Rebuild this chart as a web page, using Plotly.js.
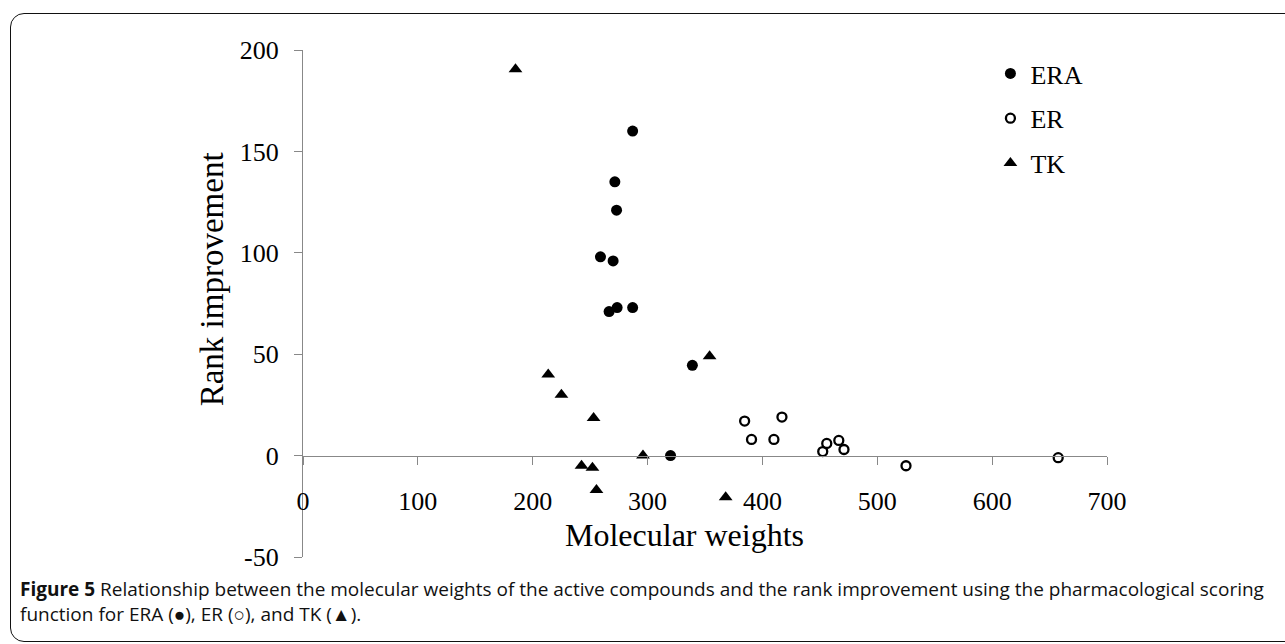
<!DOCTYPE html>
<html>
<head>
<meta charset="utf-8">
<script src="https://cdn.plot.ly/plotly-3.0.1.min.js"></script>
<style>
  html, body { margin: 0; padding: 0; background: #fff; }
  #wrap { position: relative; width: 1285px; height: 644px; overflow: hidden; }
  #frame { position: absolute; left: 10px; top: 13px; width: 1290px; height: 629px;
           border: 1.5px solid #111; border-radius: 14px; box-sizing: border-box; }
  #chart { position: absolute; left: 0; top: 0; width: 1285px; height: 644px; }
</style>
</head>
<body>
<div id="wrap">
  <div id="frame"></div>
  <div id="chart"></div>
</div>
<script>
// ERA (filled circles)
const eraX = [287, 271.5, 273, 259, 270, 266.5, 273.5, 287, 339, 320];
const eraY = [160, 135, 121, 98, 96, 71, 73, 73, 44.5, 0];
// ER (open circles)
const erX = [384.5, 390.5, 410, 417, 452.5, 456, 466.5, 471, 525, 657.5];
const erY = [17, 8, 8, 19, 2, 6, 7.5, 3, -5, -1];
// TK (triangles)
const tkX = [185, 213.5, 225, 253, 242.5, 252, 255.5, 296, 354, 368];
const tkY = [190.5, 40, 30, 18.5, -5, -6, -17, 0, 49, -20.5];

const xTicks = [0, 100, 200, 300, 400, 500, 600, 700];
const yTicks = [-50, 0, 50, 100, 150, 200];

const xTitle = "Molecular weights";
const yTitle = "Rank improvement";
const captionLine1 = "<b>Figure 5</b> Relationship between the molecular weights of the active compounds and the rank improvement using the pharmacological scoring";
const captionLine2 = "function for ERA (\u25CF), ER (\u25CB), and TK (\u25B2).";

const serif = "Liberation Serif, Times New Roman, serif";
const sans = "Open Sans, Noto Sans, sans-serif";

const traces = [
  { x: eraX, y: eraY, name: "ERA", type: "scatter", mode: "markers", legendgroup: "a",
    marker: { symbol: "circle", size: 11, color: "#000" } },
  { x: erX, y: erY, name: "ER", type: "scatter", mode: "markers", legendgroup: "b",
    marker: { symbol: "circle-open", size: 9, color: "#000", line: { width: 2.3, color: "#000" } } },
  { x: tkX, y: tkY, name: "TK", type: "scatter", mode: "markers", legendgroup: "c",
    marker: { symbol: "triangle-up", size: 12, color: "#000" } }
];

const layout = {
  width: 1285, height: 644,
  paper_bgcolor: "rgba(0,0,0,0)", plot_bgcolor: "rgba(0,0,0,0)",
  margin: { l: 303, r: 178, t: 50, b: 87 },
  showlegend: true,
  legend: { x: 0.855, y: 1.0, xanchor: "left", yanchor: "top",
            font: { family: serif, size: 26, color: "#000" },
            tracegroupgap: 8, itemwidth: 30, bgcolor: "rgba(0,0,0,0)" },
  xaxis: {
    range: [0, 700], tickvals: xTicks, ticktext: xTicks.map(String),
    anchor: "free", position: 0.2,
    showline: true, linecolor: "#888", linewidth: 1.2,
    ticks: "outside", ticklen: 8, tickcolor: "#888", tickwidth: 1.2,
    showgrid: false, zeroline: false,
    ticklabelstandoff: 14,
    tickfont: { family: serif, size: 26, color: "#000" }
  },
  yaxis: {
    range: [-50, 200], tickvals: yTicks, ticktext: yTicks.map(String),
    showline: true, linecolor: "#888", linewidth: 1.2,
    ticks: "outside", ticklen: 8, tickcolor: "#888", tickwidth: 1.2,
    showgrid: false, zeroline: false,
    ticklabelstandoff: 10,
    tickfont: { family: serif, size: 26, color: "#000" }
  },
  annotations: [
    { text: xTitle, xref: "paper", yref: "paper", x: 0.474, y: 0.043,
      xanchor: "center", yanchor: "middle", showarrow: false,
      font: { family: serif, size: 32, color: "#000" } },
    { text: yTitle, xref: "paper", yref: "paper", x: -0.113, y: 0.548, textangle: -90,
      xanchor: "center", yanchor: "middle", showarrow: false,
      font: { family: serif, size: 33, color: "#000" } },
    { text: captionLine1 + "<br>" + captionLine2, xref: "paper", yref: "paper", x: -0.354, y: -0.088,
      xanchor: "left", yanchor: "middle", showarrow: false, align: "left",
      font: { family: sans, size: 19, color: "#111" } }
  ]
};

Plotly.newPlot("chart", traces, layout, { displayModeBar: false, responsive: false });
</script>
</body>
</html>
